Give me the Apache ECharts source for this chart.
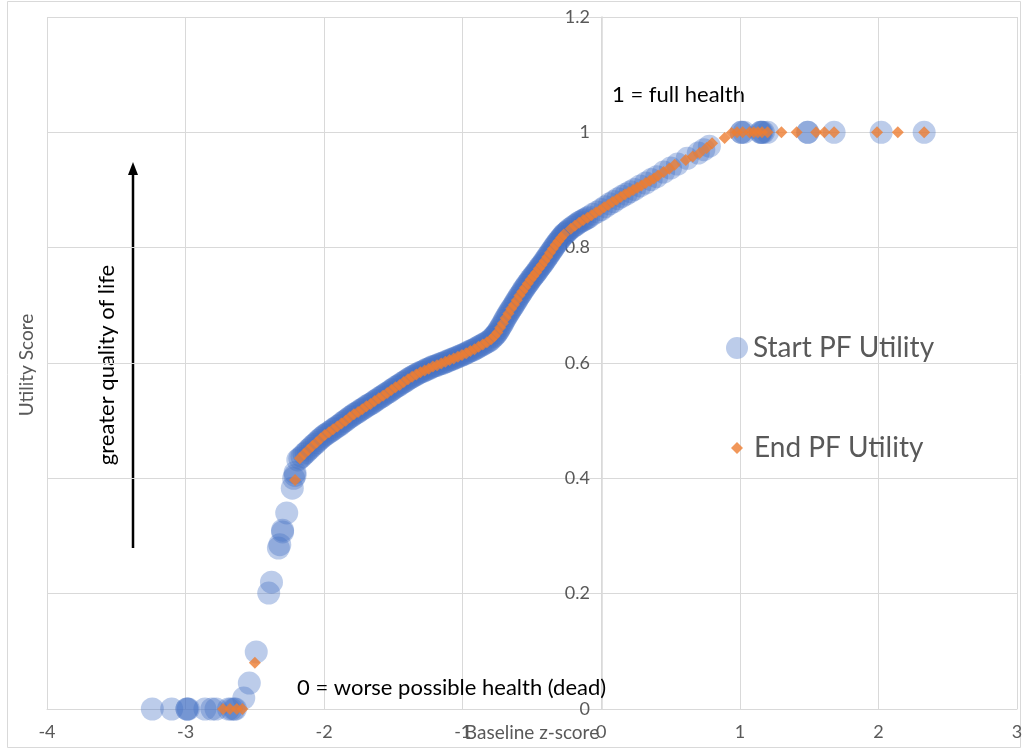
<!DOCTYPE html>
<html>
<head>
<meta charset="utf-8">
<script src="https://cdn.jsdelivr.net/npm/echarts@6/dist/echarts.min.js"></script>
<style>
html,body{margin:0;padding:0;background:#fff;}
#chart{width:1023px;height:751px;}
</style>
</head>
<body>
<div id="chart"></div>
<script>
// ---- data ----
var xTicks = [-4, -3, -2, -1, 0, 1, 2, 3];
var yTicks = [0, 0.2, 0.4, 0.6, 0.8, 1, 1.2];
var seriesNames = ['Start PF Utility', 'End PF Utility'];

var startPF = [
  [-3.24,0],[-3.10,0],[-2.99,0],[-2.99,0],[-2.98,0],[-2.86,0],[-2.81,0],[-2.78,0],[-2.69,0],[-2.67,0],[-2.65,0],[-2.64,0],
  [-2.58,0.019],[-2.54,0.045],[-2.49,0.099],
  [-2.40,0.201],[-2.38,0.22],[-2.33,0.279],[-2.32,0.285],[-2.30,0.307],[-2.30,0.31],[-2.27,0.34],
  [-2.23,0.383],[-2.22,0.40],[-2.21,0.405],[-2.21,0.41],
  [-2.19,0.432],[-2.16,0.438],[-2.13,0.445],[-2.10,0.452],[-2.07,0.459],[-2.04,0.466],[-2.01,0.472],
  [-1.98,0.477],[-1.95,0.482],[-1.92,0.487],[-1.89,0.492],[-1.86,0.498],[-1.83,0.503],[-1.80,0.508],
  [-1.77,0.513],[-1.74,0.518],[-1.71,0.522],[-1.68,0.527],[-1.65,0.531],[-1.62,0.536],[-1.59,0.541],
  [-1.56,0.546],[-1.53,0.550],[-1.50,0.555],[-1.47,0.560],[-1.44,0.565],[-1.41,0.569],[-1.38,0.574],
  [-1.35,0.578],[-1.32,0.582],[-1.29,0.585],[-1.26,0.589],[-1.23,0.592],[-1.20,0.595],[-1.17,0.598],
  [-1.14,0.600],[-1.11,0.603],[-1.08,0.606],[-1.05,0.609],[-1.02,0.612],[-0.99,0.615],[-0.96,0.619],
  [-0.93,0.622],[-0.90,0.626],[-0.87,0.630],[-0.84,0.634],[-0.81,0.638],[-0.78,0.645],[-0.76,0.650],
  [-0.74,0.657],[-0.72,0.665],[-0.70,0.674],[-0.68,0.682],[-0.66,0.690],[-0.64,0.697],[-0.62,0.705],
  [-0.60,0.713],[-0.58,0.720],[-0.56,0.728],[-0.54,0.735],[-0.52,0.741],[-0.50,0.748],[-0.48,0.754],
  [-0.46,0.760],[-0.44,0.767],[-0.42,0.773],[-0.40,0.780],[-0.38,0.787],[-0.36,0.794],[-0.34,0.801],
  [-0.32,0.808],[-0.30,0.814],[-0.28,0.820],[-0.26,0.825],[-0.24,0.829],[-0.21,0.835],[-0.18,0.840],
  [-0.15,0.845],[-0.12,0.849],[-0.09,0.853],[-0.06,0.858],[-0.03,0.862],[0.00,0.866],[0.03,0.871],
  [0.06,0.876],[0.09,0.880],[0.12,0.885],[0.15,0.889],[0.18,0.893],[0.21,0.897],[0.24,0.901],
  [0.28,0.907],[0.32,0.912],[0.36,0.918],[0.40,0.923],[0.45,0.931],[0.50,0.938],[0.55,0.945],
  [0.62,0.955],[0.70,0.964],[0.74,0.970],[0.78,0.976],
  [1.01,1],[1.01,1],[1.03,1],[1.15,1],[1.15,1],[1.16,1],[1.17,1],[1.20,1],[1.49,1],[1.49,1],[1.68,1],[2.02,1],[2.33,1],
  // second, denser layer of the solid blue band
  [-2.175,0.435],[-2.145,0.442],[-2.115,0.449],[-2.085,0.456],[-2.055,0.462],[-2.025,0.469],[-1.995,0.475],
  [-1.965,0.480],[-1.935,0.485],[-1.905,0.490],[-1.875,0.495],[-1.845,0.500],[-1.815,0.506],[-1.785,0.511],
  [-1.755,0.515],[-1.725,0.520],[-1.695,0.525],[-1.665,0.529],[-1.635,0.534],[-1.605,0.539],[-1.575,0.543],
  [-1.545,0.548],[-1.515,0.553],[-1.485,0.558],[-1.455,0.562],[-1.425,0.567],[-1.395,0.572],[-1.365,0.576],
  [-1.335,0.580],[-1.305,0.584],[-1.275,0.587],[-1.245,0.590],[-1.215,0.594],[-1.185,0.596],[-1.155,0.599],
  [-1.125,0.602],[-1.095,0.605],[-1.065,0.608],[-1.035,0.611],[-1.005,0.614],[-0.975,0.617],[-0.945,0.621],
  [-0.915,0.624],[-0.885,0.628],[-0.855,0.632],[-0.825,0.636],[-0.795,0.641],[-0.77,0.647],[-0.75,0.653],
  [-0.73,0.661],[-0.71,0.669],[-0.69,0.678],[-0.67,0.686],[-0.65,0.694],[-0.63,0.701],[-0.61,0.709],
  [-0.59,0.717],[-0.57,0.724],[-0.55,0.731],[-0.53,0.738],[-0.51,0.745],[-0.49,0.751],[-0.47,0.757],
  [-0.45,0.764],[-0.43,0.770],[-0.41,0.777],[-0.39,0.784],[-0.37,0.791],[-0.35,0.798],[-0.33,0.805],
  [-0.31,0.811],[-0.29,0.817],[-0.27,0.823],[-0.25,0.827],[-0.23,0.832],[-0.195,0.838],[-0.165,0.843],
  [-0.135,0.847],[-0.105,0.851]
];

var endPF = [
  [-2.73,0],[-2.68,0],[-2.63,0],[-2.59,0],[-2.50,0.08],[-2.21,0.397],
  [-2.175,0.435],[-2.145,0.442],[-2.115,0.449],[-2.085,0.456],[-2.055,0.462],[-2.025,0.469],[-1.995,0.475],
  [-1.965,0.480],[-1.935,0.485],[-1.905,0.490],[-1.875,0.495],[-1.845,0.500],[-1.815,0.506],[-1.785,0.511],
  [-1.755,0.515],[-1.725,0.520],[-1.695,0.525],[-1.665,0.529],[-1.635,0.534],[-1.605,0.539],[-1.575,0.543],
  [-1.545,0.548],[-1.515,0.553],[-1.485,0.558],[-1.455,0.562],[-1.425,0.567],[-1.395,0.572],[-1.365,0.576],
  [-1.335,0.580],[-1.305,0.584],[-1.275,0.587],[-1.245,0.590],[-1.215,0.594],[-1.185,0.596],[-1.155,0.599],
  [-1.125,0.602],[-1.095,0.605],[-1.065,0.608],[-1.035,0.611],[-1.005,0.614],[-0.975,0.617],[-0.945,0.621],
  [-0.915,0.624],[-0.885,0.628],[-0.855,0.632],[-0.825,0.636],[-0.795,0.641],[-0.77,0.647],[-0.75,0.653],
  [-0.73,0.661],[-0.71,0.669],[-0.69,0.678],[-0.67,0.686],[-0.65,0.694],[-0.63,0.701],[-0.61,0.709],
  [-0.59,0.717],[-0.57,0.724],[-0.55,0.731],[-0.53,0.738],[-0.51,0.745],[-0.49,0.751],[-0.47,0.757],
  [-0.45,0.764],[-0.43,0.770],[-0.41,0.777],[-0.39,0.784],[-0.37,0.791],[-0.35,0.798],[-0.33,0.805],
  [-0.31,0.811],[-0.29,0.817],[-0.27,0.823],
  [-0.22,0.833],[-0.19,0.838],[-0.16,0.843],[-0.13,0.848],[-0.10,0.852],[-0.07,0.856],[-0.04,0.861],
  [-0.01,0.865],[0.02,0.870],[0.05,0.874],[0.08,0.879],[0.11,0.883],[0.14,0.888],[0.17,0.892],
  [0.20,0.896],[0.23,0.900],[0.26,0.904],[0.29,0.908],[0.32,0.912],[0.35,0.916],[0.38,0.920],
  [0.41,0.925],[0.45,0.931],[0.49,0.937],[0.53,0.944],[0.61,0.952],[0.66,0.958],[0.71,0.964],
  [0.76,0.973],[0.80,0.981],[0.89,0.990],[0.94,0.999],
  [0.98,1],[1.02,1],[1.07,1],[1.10,1],[1.13,1],[1.16,1],[1.20,1],[1.30,1],[1.41,1],[1.55,1],[1.61,1],[1.68,1],[1.99,1],[2.14,1],[2.33,1]
];

var chart = echarts.init(document.getElementById('chart'), null, {renderer: 'canvas'});
var FONT = 'Lato, "Open Sans", sans-serif';
var labelColor = '#595959';
var gridColor = '#d9d9d9';

chart.setOption({
  animation: false,
  backgroundColor: '#ffffff',
  grid: {left: 47, right: 6, top: 17, bottom: 42, containLabel: false, outerBoundsMode: 'none'},
  xAxis: {
    type: 'value',
    min: xTicks[0], max: xTicks[xTicks.length - 1], interval: 1,
    name: 'Baseline z-score',
    nameLocation: 'middle',
    nameGap: 14,
    nameMoveOverlap: false,
    nameTextStyle: {color: labelColor, fontSize: 19, fontFamily: FONT},
    axisLine: {show: true, onZero: false, lineStyle: {color: gridColor, width: 1}},
    axisTick: {show: false},
    axisLabel: {color: labelColor, fontSize: 18, fontFamily: FONT, margin: 14},
    splitLine: {show: true, lineStyle: {color: gridColor, width: 1}}
  },
  yAxis: {
    type: 'value',
    position: 'left',
    offset: -555,
    min: yTicks[0], max: yTicks[yTicks.length - 1], interval: 0.2,
    axisLine: {show: true, onZero: false, lineStyle: {color: gridColor, width: 1.5}},
    axisTick: {show: false},
    axisLabel: {color: labelColor, fontSize: 18, fontFamily: FONT, margin: 12},
    splitLine: {show: true, lineStyle: {color: gridColor, width: 1}}
  },
  legend: [
    {
      data: [seriesNames[0]],
      orient: 'vertical', left: 721, top: 329,
      itemWidth: 22, itemHeight: 22, itemGap: 4,
      textStyle: {color: labelColor, fontSize: 28, fontFamily: FONT}
    },
    {
      data: [seriesNames[1]],
      orient: 'vertical', left: 726, top: 429,
      itemWidth: 12, itemHeight: 12, itemGap: 4,
      textStyle: {color: labelColor, fontSize: 28, fontFamily: FONT, padding: [0, 0, 0, 6]}
    }
  ],
  series: [
    {
      name: seriesNames[0],
      type: 'scatter',
      data: startPF,
      symbol: 'circle',
      symbolSize: 23,
      itemStyle: {color: 'rgba(68,114,196,0.45)'},
      z: 2
    },
    {
      name: seriesNames[1],
      type: 'scatter',
      data: endPF,
      symbol: 'diamond',
      symbolSize: 12,
      itemStyle: {color: '#ED7D31'},
      z: 3
    }
  ],
  graphic: [
    {type: 'rect', shape: {x: 7.5, y: 1.5, width: 1013, height: 746}, style: {fill: 'none', stroke: '#d9d9d9', lineWidth: 1}, silent: true, z: -10},
    {type: 'text', x: 27, y: 365, rotation: Math.PI / 2, style: {text: 'Utility Score', fill: labelColor, font: '19px ' + FONT, align: 'center', verticalAlign: 'middle'}},
    {type: 'text', x: 107, y: 365, rotation: Math.PI / 2, style: {text: 'greater quality of life', fill: '#000', font: '22px ' + FONT, align: 'center', verticalAlign: 'middle'}},
    {type: 'line', shape: {x1: 133, y1: 548, x2: 133, y2: 172}, style: {stroke: '#000', lineWidth: 2.5}},
    {type: 'polygon', shape: {points: [[133, 162], [128, 175], [138, 175]]}, style: {fill: '#000'}},
    {type: 'text', x: 612, y: 95, style: {text: '1 = full health', fill: '#000', font: '22px ' + FONT, align: 'left', verticalAlign: 'middle'}},
    {type: 'text', x: 297, y: 688, style: {text: '0 = worse possible health (dead)', fill: '#000', font: '22px ' + FONT, align: 'left', verticalAlign: 'middle'}, z: 10}
  ]
});
</script>
</body>
</html>
